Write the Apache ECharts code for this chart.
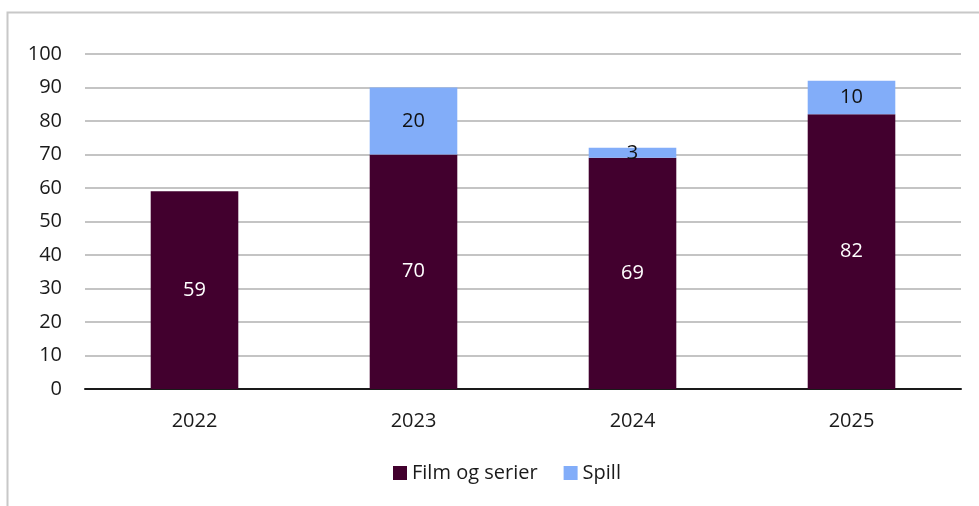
<!DOCTYPE html>
<html><head><meta charset="utf-8">
<script src="https://cdn.jsdelivr.net/npm/echarts@6/dist/echarts.min.js"></script>
<style>html,body{margin:0;padding:0;background:#fff}#c{width:979px;height:506px}</style>
</head><body><div id="c"></div>
<script>
const categories = ['2022', '2023', '2024', '2025'];
const filmValues = [59, 70, 69, 82];
const spillValues = [null, 20, 3, 10];
const yTicks = { min: 0, max: 100, interval: 10 };

const FONT = '"Open Sans", "Liberation Sans", sans-serif';
const chart = echarts.init(document.getElementById('c'), null, { renderer: 'canvas' });
chart.setOption({
  animation: false,
  backgroundColor: '#fff',
  graphic: [{
    type: 'polyline', silent: true,
    shape: { points: [[7.5, 520], [7.5, 12.5], [990, 12.5]] },
    style: { stroke: '#c8c8c8', lineWidth: 2, fill: null }
  }],
  grid: { left: 85, right: 18, top: 54, bottom: 117 },
  legend: {
    bottom: 18, left: 388,
    itemWidth: 14, itemHeight: 14, itemGap: 26, itemTextGap: 6,
    icon: 'rect',
    textStyle: { fontFamily: FONT, fontSize: 20, color: '#1a1a1a' },
    data: ['Film og serier', 'Spill']
  },
  xAxis: {
    type: 'category', data: categories,
    axisLine: { lineStyle: { color: '#1a1a1a', width: 2 } },
    axisTick: { show: false },
    axisLabel: { fontFamily: FONT, fontSize: 20, color: '#1a1a1a', margin: 22 }
  },
  yAxis: {
    type: 'value', min: yTicks.min, max: yTicks.max, interval: yTicks.interval,
    axisLine: { show: false }, axisTick: { show: false },
    splitLine: { lineStyle: { color: '#c4c4c4', width: 2 } },
    axisLabel: { fontFamily: FONT, fontSize: 20, color: '#1a1a1a', margin: 23 }
  },
  series: [{
    name: 'Film og serier', type: 'bar', stack: 's', data: filmValues,
    barWidth: '40%',
    itemStyle: { color: '#42002E' },
    label: { show: true, position: 'inside', color: '#fff', fontFamily: FONT, fontSize: 20 }
  }, {
    name: 'Spill', type: 'bar', stack: 's', data: spillValues,
    barWidth: '40%',
    itemStyle: { color: '#82ADF9' },
    label: { show: true, position: 'inside', color: '#111', fontFamily: FONT, fontSize: 20 }
  }]
});
</script></body></html>
